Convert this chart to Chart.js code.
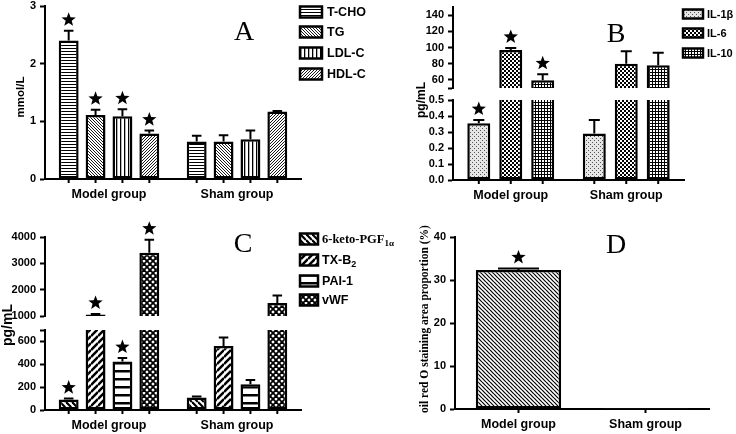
<!DOCTYPE html>
<html>
<head>
<meta charset="utf-8">
<script src="https://cdn.jsdelivr.net/npm/chart.js@4.4.1/dist/chart.umd.min.js"></script>
<style>
  body { margin: 0; background: #fff; width: 736px; height: 434px; position: relative; overflow: hidden; }
  canvas { position: absolute; }
</style>
</head>
<body>
<canvas id="a" width="370" height="210" style="left:0px;top:0px"></canvas>
<canvas id="bHigh" width="366" height="210" style="left:370px;top:0px"></canvas>
<canvas id="bLow" width="366" height="210" style="left:370px;top:0px"></canvas>
<canvas id="d" width="366" height="224" style="left:370px;top:210px"></canvas>
<canvas id="cHigh" width="420" height="224" style="left:0px;top:210px"></canvas>
<canvas id="cLow" width="420" height="224" style="left:0px;top:210px"></canvas>
<script>
const groups = ['Model group', 'Sham group'];
const starred = [true, false];   // significance star on the model group

// A: blood lipids, mmol/L
const lipidNames = ['T-CHO', 'TG', 'LDL-C', 'HDL-C'];
const lipidMean = [[2.40, 0.65], [1.11, 0.65], [1.09, 0.69], [0.79, 1.17]];
const lipidErr = [[2.57, 0.75], [1.20, 0.76], [1.21, 0.84], [0.84, 1.18]];
const lipidTicks = [0, 1, 2, 3];
const lipidLabels = ['0', '1', '2', '3'];

// B: inflammatory factors, pg/mL (broken axis)
const ilNames = ['IL-1β', 'IL-6', 'IL-10'];
const ilMean = [[0.355, 0.29], [97, 80], [59.5, 78]];
const ilErr = [[0.375, 0.375], [99.5, 95.5], [67, 93.5]];
const ilTicksHigh = [50, 60, 80, 100, 120, 140];
const ilLabelsHigh = ['', '60', '80', '100', '120', '140'];
const ilTicksLow = [0, 0.1, 0.2, 0.3, 0.4, 0.5];
const ilLabelsLow = ['0.0', '0.1', '0.2', '0.3', '0.4', '0.5'];

// C: coagulation factors, pg/mL (broken axis)
const coagNames = ['6-keto-PGF_1α', 'TX-B_2', 'PAI-1', 'vWF'];
const coagMean = [[92, 110], [1060, 560], [425, 225], [3400, 1490]];
const coagErr = [[100, 118], [1080, 635], [455, 262], [3900, 1780]];
const coagTicksHigh = [1000, 2000, 3000, 4000];
const coagLabelsHigh = ['1000', '2000', '3000', '4000'];
const coagTicksLow = [0, 200, 400, 600, 700];
const coagLabelsLow = ['0', '200', '400', '600', ''];

// D: oil red O staining area, %
const oroNames = ['oil red O'];
const oroMean = [[32.3, 0.15]];
const oroErr = [[32.7, 0.15]];
const oroTicks = [0, 10, 20, 30, 40];
const oroLabels = ['0', '10', '20', '30', '40'];

const SANS = '"Liberation Sans", Arial, sans-serif';
const SERIF = '"Liberation Serif", "Times New Roman", serif';

// ---- hatch patterns ----
function pat(w, h, draw, bg) {
  const c = document.createElement('canvas');
  c.width = w; c.height = h;
  const g = c.getContext('2d');
  g.fillStyle = bg || '#fff';
  g.fillRect(0, 0, w, h);
  g.fillStyle = '#000';
  g.strokeStyle = '#000';
  draw(g, w, h);
  return g.createPattern(c, 'repeat');
}
const hLines = (s, lw) => pat(s, s, g => g.fillRect(0, 0, s, lw));
const vLines = (s, lw) => pat(s, s, g => g.fillRect(0, 0, lw, s));
const diagDown = (s, lw) => pat(s, s, g => {
  g.lineWidth = lw;
  for (const c of [-s, 0, s]) { g.beginPath(); g.moveTo(0, c); g.lineTo(s, s + c); g.stroke(); }
});
const diagUp = (s, lw) => pat(s, s, g => {
  g.lineWidth = lw;
  for (const c of [0, s, 2 * s]) { g.beginPath(); g.moveTo(0, c); g.lineTo(s, c - s); g.stroke(); }
});
const cross = (s, lw) => pat(s, s, g => {
  g.lineWidth = lw;
  for (const c of [-s, 0, s]) { g.beginPath(); g.moveTo(0, c); g.lineTo(s, s + c); g.stroke(); }
  for (const c of [0, s, 2 * s]) { g.beginPath(); g.moveTo(0, c); g.lineTo(s, c - s); g.stroke(); }
});
const checker = n => pat(2 * n, 2 * n, g => { g.fillRect(0, 0, n, n); g.fillRect(n, n, n, n); });
const grid = s => pat(s, s, g => { g.fillRect(0, 0, s, 1); g.fillRect(0, 0, 1, s); });
const stipple = () => pat(4, 4, g => {
  g.fillStyle = '#555';
  g.fillRect(0, 0, 1, 1); g.fillRect(2, 2, 1, 1);
}, '#e6e6e6');

const lipidFills = [hLines(3, 1), diagDown(3, 0.9), vLines(4, 1.3), diagUp(3, 0.9)];
const ilFills = [stipple(), checker(2), grid(3)];
const coagFills = [diagDown(6, 2.2), diagUp(7, 2.5), hLines(8, 2.5), cross(6, 1.8)];
const oroFills = [diagDown(4, 1.2)];

// ---- decorations: error bars, stars, bar ticks, legend, titles ----
function star(ctx, cx, cy, R) {
  ctx.beginPath();
  for (let k = 0; k < 10; k++) {
    const rr = k % 2 ? R * 0.42 : R;
    const a = -Math.PI / 2 + k * Math.PI / 5;
    ctx.lineTo(cx + rr * Math.cos(a), cy + rr * Math.sin(a));
  }
  ctx.closePath();
  ctx.fill();
}

function richText(ctx, str, x, y, font, size) {
  const [main, sub] = str.split('_');
  ctx.font = font.replace('%', size);
  ctx.fillText(main, x, y);
  if (sub) {
    const w = ctx.measureText(main).width;
    ctx.font = font.replace('%', Math.round(size * 0.7));
    ctx.fillText(sub, x + w, y + size * 0.3);
  }
}

function deco(p) {
  return {
    id: 'deco',
    afterDatasetsDraw(chart) {
      const ctx = chart.ctx, ys = chart.scales.y, area = chart.chartArea;
      ctx.save();
      ctx.strokeStyle = '#000';
      ctx.fillStyle = '#000';
      ctx.lineWidth = 2;
      p.mean.forEach((vals, i) => {
        chart.getDatasetMeta(i).data.forEach((el, j) => {
          if (p.showX) {
            ctx.beginPath();
            ctx.moveTo(el.x, area.bottom);
            ctx.lineTo(el.x, area.bottom + 4);
            ctx.stroke();
          }
          const v = vals[j], e = p.err[i][j];
          if (v < ys.min || v > ys.max) return;
          const top = ys.getPixelForValue(e);
          if (e > v) {
            const half = el.width * 0.24;
            ctx.beginPath();
            ctx.moveTo(el.x, el.y);
            ctx.lineTo(el.x, top);
            ctx.moveTo(el.x - half, top);
            ctx.lineTo(el.x + half, top);
            ctx.stroke();
          }
          if (starred[j]) star(ctx, el.x, top - 11, 7.5);
        });
      });
      ctx.restore();
    },
    afterDraw(chart) {
      const ctx = chart.ctx;
      ctx.save();
      ctx.fillStyle = '#000';
      ctx.strokeStyle = '#000';
      if (p.legend) {
        const L = p.legend;
        ctx.textBaseline = 'middle';
        ctx.textAlign = 'left';
        p.names.forEach((n, i) => {
          const yc = L.ys[i];
          ctx.fillStyle = p.fills[i];
          ctx.fillRect(L.x, yc - L.h / 2, L.w, L.h);
          ctx.lineWidth = 2.5;
          ctx.strokeRect(L.x, yc - L.h / 2, L.w, L.h);
          ctx.fillStyle = '#000';
          richText(ctx, n, L.tx, yc + 0.5, L.fonts ? L.fonts[i] : 'bold %px ' + SANS, L.size);
        });
      }
      if (p.letter) {
        ctx.font = '28px ' + SERIF;
        ctx.textAlign = 'center';
        ctx.textBaseline = 'alphabetic';
        ctx.fillText(p.letter[0], p.letter[1], p.letter[2]);
      }
      if (p.title) {
        const T = p.title;
        ctx.translate(T.x, T.y);
        ctx.rotate(-Math.PI / 2);
        ctx.font = T.font;
        ctx.textAlign = 'center';
        ctx.textBaseline = 'middle';
        ctx.fillText(T.text, 0, 0);
      }
      ctx.restore();
    }
  };
}

function bars(id, p) {
  const cv = document.getElementById(id);
  const W = cv.width, H = cv.height;
  const [l, t, r, b] = p.area;
  return new Chart(cv, {
    type: 'bar',
    data: {
      labels: groups,
      datasets: p.names.map((n, i) => ({
        label: n.replace('_', ''),
        data: p.mean[i],
        backgroundColor: p.fills[i],
        borderColor: p.edge ? p.edge[i] : '#000',
        borderWidth: p.bw ? p.bw[i] : 2.5,
        borderSkipped: false,
        clip: 0,
        categoryPercentage: p.cat,
        barPercentage: p.bar
      }))
    },
    options: {
      responsive: false,
      animation: false,
      events: [],
      layout: { padding: { left: 0, top: t, right: W - r, bottom: p.showX ? 0 : H - b } },
      plugins: { legend: { display: false }, tooltip: { enabled: false } },
      scales: {
        x: {
          display: p.showX,
          grid: { display: false, drawTicks: false },
          border: { color: '#000', width: 2 },
          ticks: { color: '#000', maxRotation: 0, padding: 8, font: { family: SANS, size: 12.5, weight: 'bold' } },
          afterFit: s => {
            s.height = p.showX ? H - b : 0;
            s.paddingLeft = 0;
            s.paddingRight = 0;
          }
        },
        y: {
          min: p.range[0],
          max: p.range[1],
          afterBuildTicks: s => { s.ticks = p.ticks.map(v => ({ value: v })); },
          afterFit: s => { s.width = l; s.paddingTop = 0; s.paddingBottom = 0; },
          grid: { drawOnChartArea: false, tickLength: 5, tickWidth: 2, tickColor: '#000' },
          border: { color: '#000', width: 2 },
          ticks: {
            color: '#000', autoSkip: false, padding: 4,
            font: { family: SANS, size: 11, weight: 'bold' },
            callback: (v, i) => p.labels[i]
          }
        }
      }
    },
    plugins: [deco(p)]
  });
}

// A
bars('a', {
  names: lipidNames, mean: lipidMean, err: lipidErr, fills: lipidFills,
  ticks: lipidTicks, labels: lipidLabels, range: [0, 3],
  area: [45, 6, 301, 179], showX: true, cat: 0.84, bar: 0.74,
  legend: { x: 300, w: 22, h: 11, ys: [12, 32, 53, 74], tx: 327, size: 12.5 },
  letter: ['A', 244, 40],
  title: { text: 'mmol/L', x: 21, y: 97, font: 'bold 11.5px ' + SANS }
});

// B
bars('bHigh', {
  names: ilNames, mean: ilMean, err: ilErr, fills: ilFills,
  ticks: ilTicksHigh, labels: ilLabelsHigh, range: [50, 150],
  area: [83, 7, 314, 88], showX: false, cat: 0.83, bar: 0.72,
  legend: { x: 313, w: 20, h: 9, ys: [14, 33, 53], tx: 337, size: 11 },
  letter: ['B', 246, 42]
});
bars('bLow', {
  names: ilNames, mean: ilMean, err: ilErr, fills: ilFills,
  ticks: ilTicksLow, labels: ilLabelsLow, range: [0, 0.5],
  area: [83, 100, 314, 180], showX: true, cat: 0.83, bar: 0.72,
  title: { text: 'pg/mL', x: 52, y: 100, font: 'bold 12px ' + SANS }
});

// C
bars('cHigh', {
  names: coagNames, mean: coagMean, err: coagErr, fills: coagFills,
  ticks: coagTicksHigh, labels: coagLabelsHigh, range: [1000, 4000],
  area: [45, 27, 301, 106], showX: false, cat: 0.84, bar: 0.74,
  legend: { x: 300, w: 18, h: 11, ys: [29, 50, 71, 90], tx: 322, size: 12.5,
            fonts: ['bold %px ' + SERIF, 'bold %px ' + SANS, 'bold %px ' + SANS, 'bold %px ' + SANS] },
  letter: ['C', 243, 42]
});
bars('cLow', {
  names: coagNames, mean: coagMean, err: coagErr, fills: coagFills,
  ticks: coagTicksLow, labels: coagLabelsLow, range: [0, 700],
  area: [45, 120, 301, 200], showX: true, cat: 0.84, bar: 0.74,
  title: { text: 'pg/mL', x: 8, y: 115, font: 'bold 14px ' + SANS }
});

// D
bars('d', {
  names: oroNames, mean: oroMean, err: oroErr, fills: oroFills,
  edge: [['#000', '#999']], bw: [[2.5, 1]],
  ticks: oroTicks, labels: oroLabels, range: [0, 40],
  area: [85, 27, 339, 199], showX: true, cat: 0.8, bar: 0.84,
  letter: ['D', 246, 43],
  title: { text: 'oil red O staining area proportion (%)', x: 55, y: 109, font: 'bold 11.5px ' + SERIF }
});
</script>
</body>
</html>
